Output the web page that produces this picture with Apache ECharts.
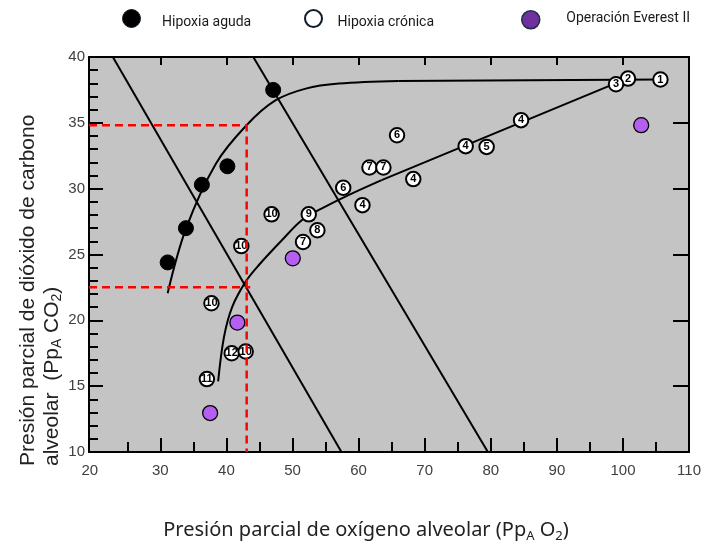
<!DOCTYPE html>
<html>
<head>
<meta charset="utf-8">
<script src="https://cdn.jsdelivr.net/npm/echarts@6/dist/echarts.min.js"></script>
<style>
html,body{margin:0;padding:0;background:#fff;}
#chart{width:704px;height:542px;}
</style>
</head>
<body>
<div id="chart"></div>
<script>
// ---- data ----
const xMin = 19.2, xMax = 110, yMin = 10, yMax = 40;
const xTickLabels = [20, 30, 40, 50, 60, 70, 80, 90, 100, 110];
const xMinorTicks = [25, 35, 45, 55, 65, 75, 85, 95, 105];
const xMajorTicks = [30, 40, 50, 60, 70, 80, 90, 100];

const acuteX = [31.1, 33.87, 36.28, 40.14, 47.07];
const acuteY = [24.4, 27.0, 30.3, 31.7, 37.5];

const chronicX = [105.67, 100.76, 98.95, 84.58, 76.2, 79.37, 65.81, 61.64, 63.75, 68.27, 57.67, 60.58, 52.45, 46.83, 53.76, 51.59, 42.25, 37.73, 40.8, 42.91, 37.04];
const chronicY = [38.29, 38.36, 37.93, 35.2, 33.23, 33.17, 34.06, 31.61, 31.61, 30.73, 30.07, 28.75, 28.05, 28.05, 26.84, 25.95, 25.64, 21.3, 17.5, 17.63, 15.54];
const chronicLabels = ['1', '2', '3', '4', '4', '5', '6', '7', '7', '4', '6', '4', '9', '10', '8', '7', '10', '10', '12', '10', '11'];

const everestX = [102.76, 50.04, 41.65, 37.53];
const everestY = [34.82, 24.71, 19.83, 12.96];

// acute-hypoxia curve: bending part, then the flat part
const acuteCurveX = [31.1, 33.9, 38.4, 43.0, 47.4, 52.0, 57.0, 66.0];
const acuteCurveY = [22.06, 27.0, 31.9, 34.8, 36.7, 37.6, 37.98, 38.18];
const acuteFlatX = [66.0, 105.67];
const acuteFlatY = [38.18, 38.29];

// chronic-hypoxia curve: bending part, then the straight part
const chronicCurveX = [38.74, 39.64, 40.89, 42.91, 44.91, 48.42, 51.44, 54.45, 58.46, 63.48];
const chronicCurveY = [15.36, 18.77, 21.04, 22.94, 24.2, 26.1, 27.62, 28.5, 29.51, 30.65];
const chronicStraightX = [63.48, 98.85, 100.76];
const chronicStraightY = [30.65, 38.0, 38.36];

const lineAX = [22.81, 57.4], lineAY = [40, 10];
const lineBX = [44.06, 79.56], lineBY = [40, 10];

const redUpperX = [19.2, 43.06, 43.06], redUpperY = [34.82, 34.82, 10];
const redLowerX = [19.2, 43.6], redLowerY = [22.51, 22.51];

const names = ['Hipoxia aguda', 'Hipoxia crónica', 'Operación Everest II'];

const zip = (xs, ys) => xs.map((x, i) => [x, ys[i]]);

const chart = echarts.init(document.getElementById('chart'), null, {renderer: 'canvas'});
const axisCol = '#000';
const tickFont = {fontFamily: 'Liberation Sans', fontSize: 15, color: '#404040'};

const baseX = {type: 'value', min: xMin, max: xMax, splitLine: {show: false}, gridIndex: 0};
const blackLine = {color: '#000', width: 2};
const legendTok = (pad) => ({fontFamily: 'Roboto', fontSize: 14, color: '#1a1a1a', padding: pad});

const option = {
  animation: false,
  backgroundColor: '#fff',
  grid: {left: 89, right: 12, top: 57, bottom: 90, show: true, backgroundColor: '#c4c4c4', borderWidth: 0},
  xAxis: [
    Object.assign({}, baseX, {
      position: 'bottom',
      axisLine: {show: true, lineStyle: {color: axisCol, width: 2}},
      axisTick: {show: true, inside: true, length: 10, lineStyle: {color: axisCol, width: 2}, customValues: xMinorTicks},
      axisLabel: Object.assign({margin: 11, alignMinLabel: 'center', alignMaxLabel: 'center',
        customValues: xTickLabels.map(v => Math.max(v, xMin)),
        formatter: v => {
          const t = xTickLabels[xTickLabels.findIndex(t => Math.abs(Math.max(t, xMin) - v) < 1e-6)];
          return t === xTickLabels[0] ? '{m|' + t + '}' : String(t);
        },
        rich: {m: {fontFamily: 'Liberation Sans', fontSize: 15, color: '#404040', padding: [0, 9, 0, 0]}}}, tickFont)
    }),
    Object.assign({}, baseX, {
      position: 'bottom',
      axisLine: {show: false},
      axisTick: {show: true, inside: true, length: 14, lineStyle: {color: axisCol, width: 2}, customValues: xMajorTicks},
      axisLabel: {show: false}
    }),
    Object.assign({}, baseX, {
      position: 'top',
      axisLine: {show: true, lineStyle: {color: axisCol, width: 2}},
      axisTick: {show: true, inside: true, length: 8, lineStyle: {color: axisCol, width: 2}, customValues: xMajorTicks},
      axisLabel: {show: false}
    })
  ],
  yAxis: [
    {type: 'value', min: yMin, max: yMax, interval: 5, position: 'left', splitLine: {show: false},
     axisLine: {show: true, lineStyle: {color: axisCol, width: 2}},
     axisTick: {show: true, inside: true, length: 14, lineStyle: {color: axisCol, width: 2}},
     minorTick: {show: true, splitNumber: 5, length: 9, lineStyle: {color: axisCol, width: 2}},
     axisLabel: Object.assign({margin: 4}, tickFont)},
    {type: 'value', min: yMin, max: yMax, interval: 5, position: 'right', splitLine: {show: false},
     axisLine: {show: true, lineStyle: {color: axisCol, width: 2}},
     axisTick: {show: true, inside: true, length: 16, lineStyle: {color: axisCol, width: 2}},
     axisLabel: {show: false}}
  ],
  legend: [
    {data: [{name: names[0], itemStyle: {color: '#000', borderColor: '#0e1b2a', borderWidth: 1}}],
     left: 122, top: 9, padding: 0, itemWidth: 19, itemHeight: 18, icon: 'circle',
     formatter: '{t|{name}}', textStyle: {rich: {t: legendTok([8, 0, 0, 16])}}},
    {data: [{name: names[1], itemStyle: {color: '#fff', borderColor: '#0e1b2a', borderWidth: 2}}],
     left: 304, top: 9, padding: 0, itemWidth: 18, itemHeight: 17, icon: 'circle',
     formatter: '{t|{name}}', textStyle: {rich: {t: legendTok([8, 0, 0, 10])}}},
    {data: [{name: names[2], itemStyle: {color: '#7030a0', borderColor: '#1f2d3d', borderWidth: 1.5}}],
     left: 521, top: 10, padding: 0, itemWidth: 19, itemHeight: 18, icon: 'circle',
     formatter: '{t|{name}}', textStyle: {rich: {t: legendTok([0, 0, 2, 21])}}}
  ],
  graphic: [
    {type: 'text', x: 40, y: 466, rotation: Math.PI / 2, z: 10,
     style: {
       text: '{a|Presión parcial de dióxido de carbono}\n{a|alveolar  (Pp}{s|A}{a| CO}{s|2}{a|)}',
       align: 'left', verticalAlign: 'middle', fill: '#222',
       rich: {
         a: {fontFamily: 'Liberation Sans', fontSize: 21, lineHeight: 24, fill: '#222'},
         s: {fontFamily: 'Liberation Sans', fontSize: 14, verticalAlign: 'bottom', lineHeight: 14, fill: '#222'}
       }
     }},
    {type: 'text', x: 366, y: 530, z: 10,
     style: {
       text: '{a|Presión parcial de oxígeno alveolar (Pp}{s|A}{a| O}{s|2}{a|)}',
       align: 'center', verticalAlign: 'middle', fill: '#222',
       rich: {
         a: {fontFamily: 'Noto Sans', fontSize: 20, lineHeight: 26, fill: '#222'},
         s: {fontFamily: 'Noto Sans', fontSize: 13, verticalAlign: 'bottom', lineHeight: 15, fill: '#222'}
       }
     }}
  ],
  series: [
    {type: 'line', data: zip(lineAX, lineAY), symbol: 'none', z: 2, silent: true, lineStyle: blackLine},
    {type: 'line', data: zip(lineBX, lineBY), symbol: 'none', z: 2, silent: true, lineStyle: blackLine},
    {type: 'line', data: zip(acuteCurveX, acuteCurveY), symbol: 'none', smooth: 0.35, z: 2, lineStyle: blackLine},
    {type: 'line', data: zip(acuteFlatX, acuteFlatY), symbol: 'none', z: 2, lineStyle: blackLine},
    {type: 'line', data: zip(chronicCurveX, chronicCurveY), symbol: 'none', smooth: 0.35, z: 2, lineStyle: blackLine},
    {type: 'line', data: zip(chronicStraightX, chronicStraightY), symbol: 'none', z: 2, lineStyle: blackLine},
    {name: names[0], type: 'scatter', data: zip(acuteX, acuteY), symbol: 'circle', symbolSize: 15, z: 3,
     itemStyle: {color: '#000', borderColor: '#000', borderWidth: 1, opacity: 1}},
    {name: names[1], type: 'scatter', data: zip(chronicX, chronicY).map((p, i) => ({value: p, label: {formatter: chronicLabels[i]}})),
     symbol: 'circle', symbolSize: 14.5, z: 3,
     itemStyle: {color: '#fff', borderColor: '#000', borderWidth: 2, opacity: 1},
     label: {show: true, position: 'inside', color: '#000', fontFamily: 'Liberation Sans', fontSize: 11, fontWeight: 'bold'}},
    {name: names[2], type: 'scatter', data: zip(everestX, everestY), symbol: 'circle', symbolSize: 15, z: 3,
     itemStyle: {color: '#b45ff0', borderColor: '#000', borderWidth: 1.3, opacity: 1}},
    {type: 'line', data: zip(redUpperX, redUpperY), symbol: 'none', z: 6,
     lineStyle: {color: '#ff0000', width: 2.5, type: [8, 5]}},
    {type: 'line', data: zip(redLowerX, redLowerY), symbol: 'none', z: 6,
     lineStyle: {color: '#ff0000', width: 2.5, type: [8, 5]}}
  ]
};
chart.setOption(option);
</script>
</body>
</html>
